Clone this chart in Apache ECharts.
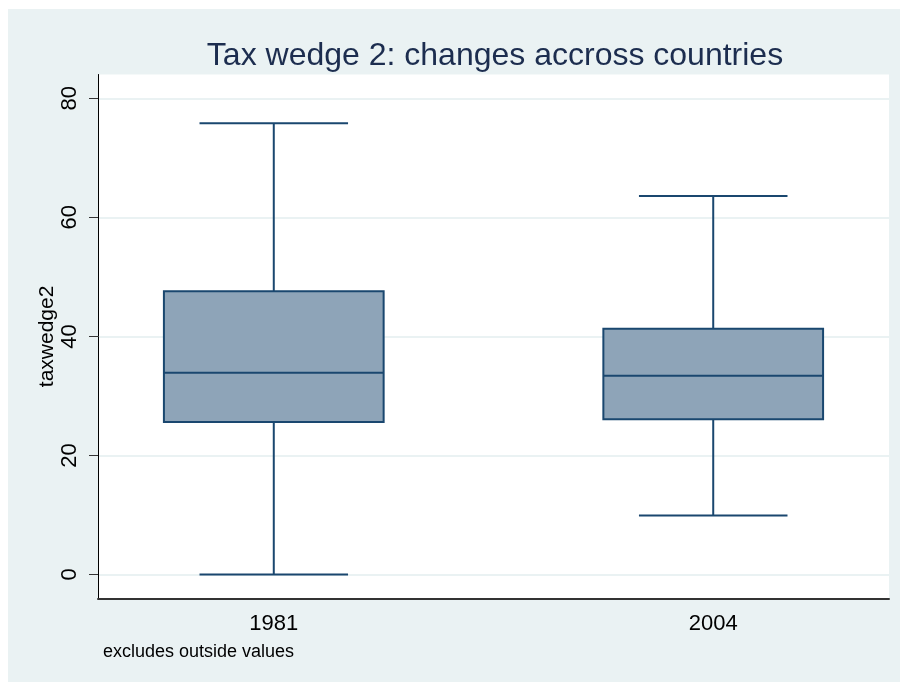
<!DOCTYPE html>
<html><head><meta charset="utf-8">
<script src="https://cdn.jsdelivr.net/npm/echarts@6/dist/echarts.min.js"></script>
<style>html,body{margin:0;padding:0;background:#fff;width:900px;height:682px;overflow:hidden}#c{position:absolute;left:8px;top:9px;width:892px;height:673px}</style>
</head><body><div id="c"></div>
<script>
const years = ['1981', '2004'];
const xPos = [1, 2];
const whiskerLow = [0, 9.9];
const q1 = [25.6, 26.1];
const median = [33.9, 33.4];
const q3 = [47.6, 41.3];
const whiskerHigh = [75.8, 63.6];
const yTicks = [0, 20, 40, 60, 80];
const titleText = 'Tax wedge 2: changes accross countries';
const yTitle = 'taxwedge2';
const noteText = 'excludes outside values';

const FONT = "'Liberation Sans', Arial, sans-serif";
const LINE = '#1a476f';
const FILL = '#8ea4b8';

const rows = xPos.map((x, i) => [x, whiskerLow[i], q1[i], median[i], q3[i], whiskerHigh[i]]);

const chart = echarts.init(document.getElementById('c'), null, {renderer: 'canvas'});
chart.setOption({
  backgroundColor: '#eaf2f3',
  animation: false,
  title: [
    {text: titleText, left: 482, textAlign: 'center', top: 26,
     textStyle: {fontFamily: FONT, fontSize: 32, fontWeight: 'normal', color: '#1c2d4f'}},
    {text: noteText, left: 90, top: 629,
     textStyle: {fontFamily: FONT, fontSize: 18, fontWeight: 'normal', color: '#000'}}
  ],
  grid: {left: 90, top: 65.5, right: 11, bottom: 83.7, show: true, backgroundColor: '#ffffff', borderWidth: 0},
  xAxis: {
    type: 'value', min: 0.6, max: 2.4,
    axisLine: {show: true, onZero: false, lineStyle: {color: '#333', width: 2}},
    axisTick: {show: false},
    splitLine: {show: false},
    axisLabel: {customValues: xPos, formatter: v => years[xPos.indexOf(v)] || '',
      fontFamily: FONT, fontSize: 22, color: '#000', margin: 15}
  },
  yAxis: {
    type: 'value', min: -4, max: 84,
    name: yTitle, nameLocation: 'middle', nameGap: 40, nameMoveOverlap: false,
    nameTextStyle: {fontFamily: FONT, fontSize: 21, color: '#000'},
    axisLine: {show: true, onZero: false, lineStyle: {color: '#000', width: 1}},
    axisTick: {show: true, customValues: yTicks, length: 9, lineStyle: {color: '#333', width: 1}},
    axisLabel: {customValues: yTicks, rotate: 90, fontFamily: FONT, fontSize: 22, color: '#000', margin: 17},
    splitLine: {show: true, lineStyle: {color: '#eaf2f3', width: 2}}
  },
  series: [{
    type: 'custom',
    data: rows,
    encode: {x: 0, y: [1, 2, 3, 4, 5]},
    renderItem: function (params, api) {
      const x = api.value(0);
      const pLo = api.coord([x, api.value(1)]);
      const pQ1 = api.coord([x, api.value(2)]);
      const pMed = api.coord([x, api.value(3)]);
      const pQ3 = api.coord([x, api.value(4)]);
      const pHi = api.coord([x, api.value(5)]);
      const bw = api.size([0.5, 0])[0];
      const cw = api.size([0.338, 0])[0];
      const cx = pMed[0];
      const st = {stroke: LINE, lineWidth: 2, fill: null};
      return {
        type: 'group',
        children: [
          {type: 'line', shape: {x1: cx, y1: pQ3[1], x2: cx, y2: pHi[1]}, style: st},
          {type: 'line', shape: {x1: cx, y1: pLo[1], x2: cx, y2: pQ1[1]}, style: st},
          {type: 'line', shape: {x1: cx - cw / 2, y1: pHi[1], x2: cx + cw / 2, y2: pHi[1]}, style: st},
          {type: 'line', shape: {x1: cx - cw / 2, y1: pLo[1], x2: cx + cw / 2, y2: pLo[1]}, style: st},
          {type: 'rect', shape: {x: cx - bw / 2, y: pQ3[1], width: bw, height: pQ1[1] - pQ3[1]},
           style: {fill: FILL, stroke: LINE, lineWidth: 2}},
          {type: 'line', shape: {x1: cx - bw / 2, y1: pMed[1], x2: cx + bw / 2, y2: pMed[1]}, style: st}
        ]
      };
    }
  }]
});
</script></body></html>
